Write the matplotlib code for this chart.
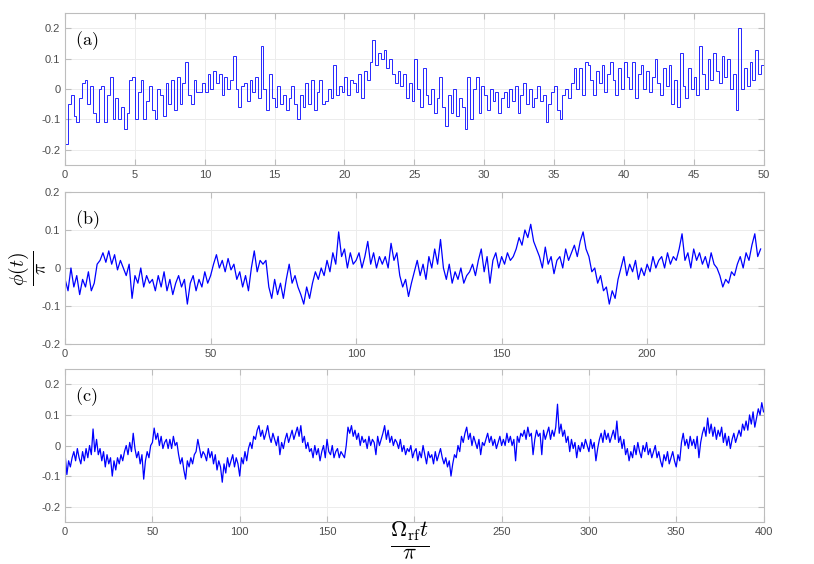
import numpy as np
import matplotlib
matplotlib.use('Agg')
from matplotlib import pyplot as plt

# panel (a): stair values, one per 0.2 time units, t = 0..50
t_a_step = 0.2
phi_a = [
    -0.18, -0.05, -0.02, -0.09, -0.11, -0.03, 0.02, 0.03, -0.05, 0.01,
    -0.08, -0.11, 0.0, 0.01, -0.11, -0.02, 0.04, -0.1, -0.03, -0.1,
    -0.06, -0.13, -0.08, 0.03, 0.04, -0.1, -0.01, 0.03, -0.1, -0.04,
    0.01, -0.07, -0.1, 0.0, -0.02, -0.09, 0.02, -0.05, 0.03, -0.07,
    0.04, -0.05, 0.02, 0.09, -0.02, -0.05, 0.03, -0.01, -0.01, 0.02,
    -0.01, 0.05, 0.0, 0.06, 0.02, 0.05, -0.02, 0.04, 0.0, 0.03,
    0.11, 0.0, -0.06, 0.01, 0.02, -0.04, 0.03, -0.01, 0.04, -0.03,
    0.14, 0.0, -0.07, 0.05, -0.03, -0.06, 0.01, -0.05, -0.02, -0.07,
    -0.03, 0.01, -0.05, -0.1, -0.02, -0.06, 0.02, -0.05, 0.03, -0.07,
    -0.01, 0.03, -0.05, -0.04, 0.0, -0.03, 0.08, -0.02, 0.01, -0.01,
    0.04, -0.02, 0.03, 0.02, -0.01, 0.05, -0.03, 0.06, 0.03, 0.09,
    0.16, 0.08, 0.12, 0.1, 0.13, 0.07, 0.1, 0.05, 0.02, 0.06,
    0.01, 0.05, -0.03, 0.02, -0.04, 0.1, 0.0, -0.06, 0.07, -0.02,
    -0.05, 0.0, -0.08, -0.03, 0.04, -0.06, -0.12, -0.02, -0.08, 0.0,
    -0.09, -0.03, -0.06, -0.13, 0.04, -0.1, 0.0, 0.04, -0.08, 0.01,
    -0.02, -0.07, 0.0, -0.04, -0.01, -0.08, -0.03, -0.01, -0.06, 0.0,
    -0.04, 0.01, -0.08, -0.02, 0.02, -0.05, 0.0, -0.06, -0.03, 0.01,
    -0.04, -0.02, -0.11, -0.05, -0.01, 0.01, -0.07, -0.1, -0.02, 0.0,
    -0.03, 0.02, 0.07, 0.0, 0.07, -0.02, 0.09, 0.08, 0.03, -0.02,
    0.06, 0.02, 0.08, -0.01, 0.05, 0.09, 0.03, -0.02, 0.07, 0.0,
    0.09, 0.04, 0.0, 0.09, -0.03, 0.05, 0.08, 0.0, 0.06, -0.01,
    0.04, 0.1, 0.02, -0.02, 0.07, 0.01, 0.08, -0.05, 0.03, -0.06,
    0.12, 0.01, -0.03, 0.07, 0.0, 0.04, -0.02, 0.14, 0.05, 0.0,
    0.1, 0.03, 0.12, 0.06, 0.02, 0.11, 0.04, 0.1, 0.0, 0.05,
    -0.07, 0.2, 0.0, 0.07, 0.01, 0.09, 0.03, 0.13, 0.05, 0.08,
]

# panel (b): one value per time unit, t = 0..239
phi_b = [
    -0.03, -0.06, 0.0, -0.05, -0.02, -0.07, -0.03, -0.05, -0.01, -0.06,
    -0.04, 0.01, 0.02, 0.04, 0.015, 0.045, 0.01, 0.035, -0.005, 0.02,
    0.0, -0.02, 0.01, -0.08, -0.02, -0.04, 0.0, -0.05, -0.02, -0.04,
    -0.03, -0.06, -0.02, -0.05, -0.01, -0.06, -0.03, -0.07, -0.04, -0.02,
    -0.05, -0.03, -0.095, -0.04, -0.02, -0.06, -0.03, -0.05, -0.01, -0.04,
    -0.02, 0.01, 0.035, 0.0, 0.02, -0.01, 0.025, -0.005, 0.01, -0.03,
    -0.01, -0.05, -0.02, -0.06, 0.0, 0.045, -0.01, 0.02, 0.01, 0.02,
    -0.05, -0.08, -0.03, -0.07, -0.04, -0.08, -0.03, 0.01, -0.04, -0.02,
    -0.05, -0.07, -0.095, -0.05, -0.08, -0.04, -0.01, -0.03, 0.0, -0.02,
    0.02, -0.01, 0.04, 0.01, 0.095, 0.03, 0.05, 0.0, 0.04, 0.01,
    0.02, 0.04, 0.0, 0.03, 0.07, 0.01, 0.04, 0.0, 0.03, 0.01,
    0.03, 0.0, 0.065, 0.02, 0.04, -0.02, -0.05, -0.03, -0.075, -0.04,
    -0.01, 0.02, -0.02, 0.01, -0.03, 0.03, 0.0, 0.05, 0.01, 0.075,
    0.0, -0.03, 0.01, -0.04, -0.01, -0.03, 0.0, -0.04, -0.02, -0.01,
    0.01, -0.02, 0.02, 0.05, -0.01, 0.03, -0.04, 0.02, 0.04, 0.0,
    0.03, 0.01, 0.04, 0.02, 0.03, 0.05, 0.08, 0.06, 0.1, 0.08,
    0.115, 0.07, 0.05, 0.03, 0.0, 0.055, 0.01, 0.03, -0.015, 0.02,
    0.03, 0.0, 0.05, 0.02, 0.04, 0.06, 0.03, 0.07, 0.095, 0.05,
    0.03, -0.01, 0.0, -0.04, -0.02, -0.06, -0.05, -0.095, -0.06, -0.08,
    -0.03, 0.0, 0.03, -0.02, 0.01, -0.01, 0.02, -0.03, 0.0, -0.02,
    0.01, -0.01, 0.03, 0.0, 0.02, 0.03, 0.0, 0.04, 0.01, 0.03,
    0.02, 0.05, 0.09, 0.02, 0.04, 0.0, 0.05, 0.02, 0.04, 0.01,
    0.03, 0.0, 0.04, 0.01, 0.0, -0.02, -0.05, -0.03, -0.04, -0.01,
    -0.02, 0.01, 0.03, 0.0, 0.04, 0.02, 0.06, 0.09, 0.03, 0.05,
]

# panel (c): one value per time unit, t = 0..400
phi_c = [
    -0.03, -0.095, -0.05, -0.07, -0.04, -0.02, -0.05, -0.01, -0.04, -0.06,
    -0.02, -0.05, -0.01, -0.04, 0.0, -0.03, 0.054, -0.02, 0.02, -0.03,
    -0.01, -0.05, -0.02, -0.07, -0.03, -0.06, -0.04, -0.1, -0.05, -0.08,
    -0.04, -0.06, -0.03, -0.05, -0.02, 0.0, -0.03, 0.01, -0.02, 0.04,
    -0.01, -0.04, -0.02, -0.06, -0.03, -0.11, -0.05, -0.02, -0.04, 0.0,
    0.01, 0.057, 0.02, 0.04, 0.0, 0.03, -0.01, 0.01, 0.02, -0.01,
    0.02, -0.01, 0.03, 0.0, 0.01, -0.03, -0.06, -0.04, -0.08, -0.11,
    -0.05, -0.07, -0.04, -0.06, -0.03, -0.02, 0.02, -0.01, -0.04, -0.02,
    -0.03, -0.05, -0.01, -0.04, -0.02, -0.06, -0.03, -0.08, -0.05, -0.07,
    -0.12, -0.06, -0.09, -0.04, -0.07, -0.05, -0.03, -0.07, -0.04, -0.06,
    -0.1, -0.04, -0.06, -0.02, -0.05, -0.01, 0.01, -0.01, 0.03, 0.02,
    0.05, 0.065, 0.03, 0.05, 0.02, 0.04, 0.065, 0.03, 0.01, 0.04,
    0.02, 0.0, 0.03, -0.03, 0.01, -0.01, 0.02, 0.04, 0.01, 0.03,
    0.05, 0.02, 0.04, 0.06, 0.03, 0.065, 0.01, 0.03, -0.01, 0.01,
    -0.02, -0.01, -0.04, 0.0, -0.03, -0.01, -0.05, -0.02, 0.0, -0.04,
    0.02, -0.02, -0.03, 0.0, -0.04, -0.02, -0.01, -0.04, -0.02, -0.03,
    -0.04, 0.0, 0.06, 0.04, 0.065, 0.03, 0.05, 0.02, 0.04, 0.0,
    0.03, 0.01, 0.02, -0.01, 0.03, 0.0, 0.02, 0.01, -0.03, 0.03,
    0.0, 0.02, 0.04, 0.065, 0.02, 0.05, 0.01, 0.03, 0.0, 0.02,
    0.01, -0.01, 0.02, -0.02, 0.0, -0.03, -0.01, -0.02, 0.0, -0.04,
    -0.02, -0.01, -0.05, -0.02, -0.04, 0.0, -0.03, -0.06, -0.02, -0.04,
    -0.03, -0.06, -0.02, -0.05, -0.03, -0.01, -0.04, -0.06, -0.04, -0.07,
    -0.05, -0.1, -0.06, -0.03, -0.04, 0.0, -0.02, 0.03, 0.01, 0.04,
    0.06, 0.02, 0.04, 0.0, 0.03, 0.01, -0.01, 0.02, -0.03, 0.01,
    0.0, 0.02, 0.04, 0.01, 0.03, 0.0, 0.02, -0.01, 0.01, 0.03,
    0.0, 0.02, 0.0, 0.04, 0.01, 0.03, 0.0, 0.02, -0.05, 0.03,
    0.01, 0.04, 0.03, 0.05, 0.02, 0.06, 0.03, 0.04, -0.03, 0.02,
    0.05, 0.03, 0.04, -0.03, 0.05, 0.02, 0.04, 0.06, 0.02, 0.05,
    0.03, 0.06, 0.135, 0.04, 0.07, 0.03, 0.05, 0.01, 0.03, -0.02,
    0.02, -0.01, 0.01, -0.04, 0.0, -0.02, 0.01, -0.01, 0.02, 0.0,
    -0.02, 0.02, -0.01, 0.01, -0.05, -0.01, 0.02, 0.04, 0.01, 0.05,
    0.02, 0.04, 0.01, 0.03, 0.05, 0.02, 0.08, 0.01, 0.03, -0.01,
    0.02, -0.03, -0.01, -0.05, -0.02, -0.04, 0.0, -0.03, 0.01, -0.02,
    -0.04, 0.0, -0.02, 0.01, -0.03, -0.01, -0.04, -0.02, 0.0, -0.04,
    -0.02, -0.05, -0.07, -0.03, -0.05, -0.02, -0.06, -0.04, -0.02, -0.05,
    -0.07, -0.03, -0.05, 0.01, 0.04, 0.0, 0.02, -0.01, 0.03, 0.0,
    0.02, -0.01, 0.03, -0.04, 0.01, 0.04, 0.06, 0.03, 0.09, 0.04,
    0.07, 0.03, 0.06, 0.02, 0.05, 0.03, 0.06, 0.01, 0.04, 0.0,
    0.03, -0.01, 0.02, 0.04, 0.01, 0.03, 0.05, 0.03, 0.07, 0.05,
    0.08, 0.05, 0.1, 0.07, 0.11, 0.06, 0.09, 0.12, 0.1, 0.14,
    0.11,
]

y_ticks = [-0.2, -0.1, 0, 0.1, 0.2]
y_labels = ['-0.2', '-0.1', '0', '0.1', '0.2']
# the 200 label of (c) is hidden under the x label in the original
c_labels = ['0', '50', '100', '150', '', '250', '300', '350', '400']

edges_a = np.arange(len(phi_a) + 1) * t_a_step
t_b = np.arange(len(phi_b))
t_c = np.arange(len(phi_c))

frame_col = '#bdbdbd'
tick_col = '#4d4d4d'
plt.rcParams['font.family'] = ['Liberation Sans', 'DejaVu Sans']
plt.rcParams['mathtext.fontset'] = 'cm'

fig = plt.figure(figsize=(8.14, 5.64), dpi=100)
left, width = 0.08, 0.858
ax_a = fig.add_axes([left, 0.7074, width, 0.2695])
ax_b = fig.add_axes([left, 0.3901, width, 0.2695])
ax_c = fig.add_axes([left, 0.0745, width, 0.2712])

ax_a.stairs(phi_a, edges_a, color='blue', lw=0.7, alpha=0.85, baseline=None)
ax_b.plot(t_b, phi_b, color='blue', lw=0.9)
ax_c.plot(t_c, phi_c, color='blue', lw=0.9)

ax_a.set_xlim(0, 50)
ax_a.set_xticks(np.arange(0, 51, 5))
ax_a.set_ylim(-0.25, 0.25)

ax_b.set_xlim(0, 240)
ax_b.set_xticks([0, 50, 100, 150, 200])
ax_b.set_ylim(-0.2, 0.2)

ax_c.set_xlim(0, 400)
ax_c.set_xticks(np.arange(0, 401, 50))
ax_c.set_xticklabels(c_labels)
ax_c.set_ylim(-0.25, 0.25)

for ax, lab in [(ax_a, '(a)'), (ax_b, '(b)'), (ax_c, '(c)')]:
    ax.set_yticks(y_ticks)
    ax.set_yticklabels(y_labels)
    ax.grid(True, color='#ececec', lw=0.7)
    ax.set_axisbelow(True)
    for s in ax.spines.values():
        s.set_color(frame_col)
        s.set_linewidth(0.8)
    ax.tick_params(direction='in', length=4, width=0.8, color=frame_col,
                   labelcolor=tick_col, labelsize=8, top=True, right=True)
    ax.text(0.014, 0.82, r'$\mathrm{' + lab + '}$', transform=ax.transAxes,
            fontsize=13, va='center', ha='left')

fig.text(0.034, 0.525, r'$\frac{\phi(t)}{\pi}$', rotation=90,
         fontsize=20, ha='center', va='center')
fig.text(0.504, 0.042, r'$\frac{\Omega_{\mathrm{rf}}t}{\pi}$',
         fontsize=23, ha='center', va='center')

fig.savefig('out.png', dpi=100)
